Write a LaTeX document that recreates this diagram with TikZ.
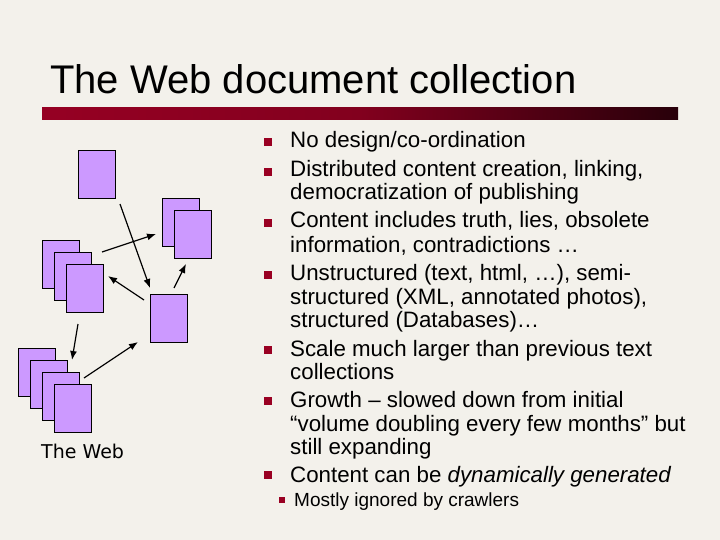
\documentclass[tikz,border=0pt]{standalone}
\usepackage{fontspec}
\setmainfont{Liberation Sans}
\newfontfamily\webfont{DejaVu Sans}
\definecolor{bg}{RGB}{243,241,235}
\definecolor{pagec}{RGB}{204,153,255}
\definecolor{bulc}{RGB}{153,0,34}
\definecolor{barl}{RGB}{150,0,35}
\definecolor{barm}{RGB}{130,0,30}
\definecolor{barr}{RGB}{40,0,10}
\usetikzlibrary{arrows.meta}
\begin{document}
\begin{tikzpicture}[x=1pt,y=-1pt,
  page/.style={draw=black,fill=pagec,line width=0.8pt},
  arr/.style={-{Latex[length=9pt,width=7pt]},line width=1.2pt},
  bul/.style={fill=bulc,minimum size=8pt,inner sep=0pt},
  sbul/.style={fill=bulc,minimum size=6pt,inner sep=0pt},
  txt/.style={anchor=base west,inner sep=0pt,font=\fontsize{22.3}{26}\selectfont}]
\fill[bg] (0,0) rectangle (720,540);
\useasboundingbox (0,0) rectangle (720,540);
\node[anchor=base west,inner sep=0pt,font=\fontsize{40}{44}\selectfont] (title) at (50,94) {The Web document collection};
\shade[left color=barl,right color=barr,middle color=barm] (42,108) rectangle (678,120);
% pages
\def\pg#1#2#3{\node[page,minimum width=37pt,minimum height=48pt,inner sep=0pt,anchor=north west] (#1) at (#2,#3) {};}
\pg{t}{78}{150}
\pg{b1}{162}{198}\pg{b2}{174}{210}
\pg{c1}{42}{240}\pg{c2}{54}{252}\pg{c3}{66}{264}
\pg{m}{150}{294}
\pg{d1}{18}{348}\pg{d2}{30}{360}\pg{d3}{42}{372}\pg{d4}{54}{384}
\coordinate (a1) at (120,204); \coordinate (a2) at (150,288);
\coordinate (b1s) at (102,252); \coordinate (b1e) at (156,234);
\coordinate (c1s) at (144,300); \coordinate (c1e) at (108,276);
\coordinate (e1s) at (174,288); \coordinate (e1e) at (186,264);
\coordinate (f1s) at (78,324); \coordinate (f1e) at (72,360);
\coordinate (g1s) at (84,378); \coordinate (g1e) at (138,342);
\draw[arr] (a1) -- (a2);
\draw[arr] (b1s) -- (b1e);
\draw[arr] (c1s) -- (c1e);
\draw[arr] (e1s) -- (e1e);
\draw[arr] (f1s) -- (f1e);
\draw[arr] (g1s) -- (g1e);
\node[anchor=base west,inner sep=0pt,font=\webfont\fontsize{19}{22}\selectfont] (web) at (41,458) {The Web};
% bullets
\foreach \y/\n in {142/p1,172/p2,223/p3,275/p4,350/p5,401/p6,475/p7}{\node[bul] (\n) at (268,\y) {};}
\node[sbul] (s1) at (282,500) {};
\node[txt] (l1) at (290,148) {No design/co-ordination};
\node[txt] (l2) at (290,177) {Distributed content creation, linking,};
\node[txt] (l3) at (290,200) {democratization of publishing};
\node[txt] (l4) at (290,228) {Content includes truth, lies, obsolete};
\node[txt] (l5) at (290,252) {information, contradictions \dots};
\node[txt] (l6) at (290,280) {Unstructured (text, html, \dots), semi-};
\node[txt] (l7) at (290,304) {structured (XML, annotated photos),};
\node[txt] (l8) at (290,327) {structured (Databases)\dots};
\node[txt] (l9) at (290,356) {Scale much larger than previous text};
\node[txt] (l10) at (290,379) {collections};
\node[txt] (l11) at (290,407) {Growth -- slowed down from initial};
\node[txt] (l12) at (290,431) {``volume doubling every few months'' but};
\node[txt] (l13) at (290,454) {still expanding};
\node[txt] (l14) at (290,482) {Content can be \textit{dynamically generated}};
\node[anchor=base west,inner sep=0pt,font=\fontsize{19}{22}\selectfont] (l15) at (294,506) {Mostly ignored by crawlers};
\end{tikzpicture}
\end{document}
